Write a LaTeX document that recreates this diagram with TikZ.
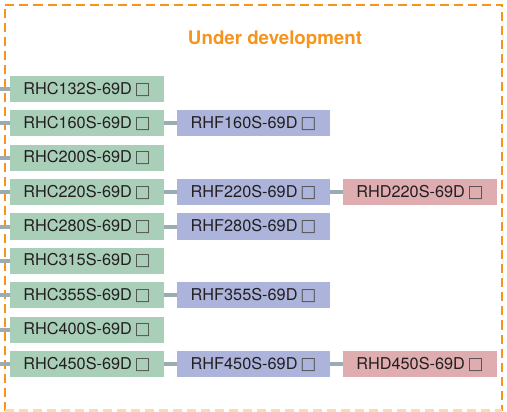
\documentclass[tikz,border=0pt]{standalone}
\usepackage{fontspec}
\setmainfont{TeX Gyre Heros}
\newfontfamily\symfont{DejaVu Sans}
\definecolor{cgreen}{HTML}{A9CFB9}
\definecolor{cblue}{HTML}{ACB4DC}
\definecolor{cpink}{HTML}{DFADB0}
\definecolor{clink}{HTML}{9AABB4}
\definecolor{corange}{HTML}{F7941D}
\definecolor{txt}{HTML}{231F20}
\definecolor{sqgray}{HTML}{505050}
\newcommand\boxmark{{\symfont\fontsize{17}{17}\selectfont\color{sqgray}□}}
\begin{document}
\begin{tikzpicture}[x=1pt,y=-1pt,
  box/.style={minimum width=154pt, minimum height=26pt, inner sep=0pt,
    font=\fontsize{16.3}{16.3}\selectfont, text=txt},
  rhc/.style={box, fill=cgreen},
  rhf/.style={box, fill=cblue, minimum width=153pt},
  rhd/.style={box, fill=cpink},
  link/.style={draw=clink, line width=4pt},
  frame/.style={draw=corange, line width=2.8pt, dash pattern=on 9pt off 5pt},
]
\useasboundingbox (0,0) rectangle (507,412);
% dashed frame round the group
\draw[frame] (5,410.5) -- (5,5) -- (502,5) -- (502,410.5);
\draw[frame, draw=corange!35] (5,410.5) -- (502,410.5);
\node[text=corange, font=\bfseries\fontsize{18.7}{18.7}\selectfont] (title) at (275,40) {Under development};
% RHC column with stubs from the left edge
\foreach \n [count=\i from 0] in {132,160,200,220,280,315,355,400,450} {
  \node[rhc] (c\n) at (87, 89+34.375*\i) {RHC\n S-69D\,\boxmark};
  \coordinate (s\n) at (0, 89+34.375*\i);
  \draw[link] (s\n) -- (c\n);
}
% RHF column
\foreach \n in {160,220,280,355,450} {
  \node[rhf] (f\n) at (253.5, 0 |- c\n) {RHF\n S-69D\,\boxmark};
  \draw[link] (c\n) -- (f\n);
}
% RHD column
\foreach \n in {220,450} {
  \node[rhd] (d\n) at (420, 0 |- c\n) {RHD\n S-69D\,\boxmark};
  \draw[link] (f\n) -- (d\n);
}
\end{tikzpicture}
\end{document}
